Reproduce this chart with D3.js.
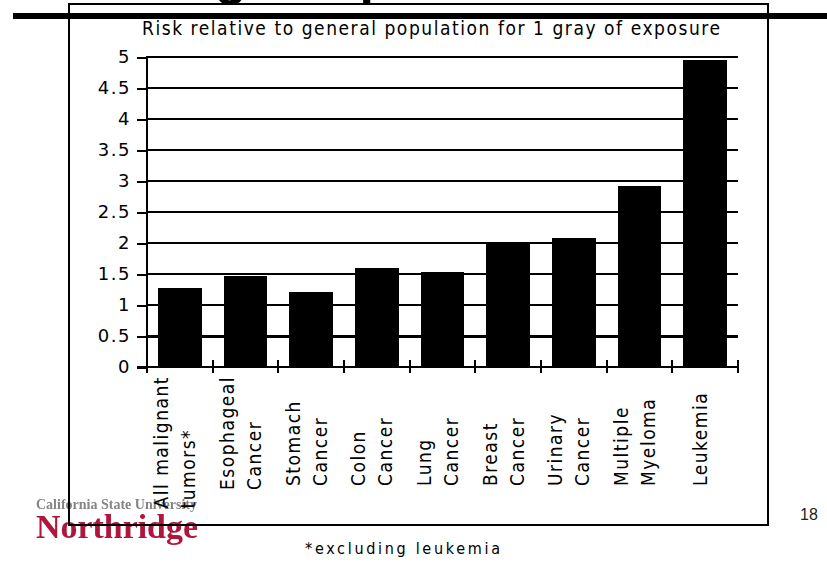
<!DOCTYPE html>
<html>
<head>
<meta charset="utf-8">
<script src="https://cdn.jsdelivr.net/npm/d3@7"></script>
<style>
  html, body { margin: 0; padding: 0; background: #fff; }
  svg { display: block; }
</style>
</head>
<body>
<svg id="chart" width="827" height="563"></svg>
<script>
// Cancer risk per gray, relative to the general population
const categories = [
  "All malignant\ntumors*",
  "Esophageal\nCancer",
  "Stomach\nCancer",
  "Colon\nCancer",
  "Lung\nCancer",
  "Breast\nCancer",
  "Urinary\nCancer",
  "Multiple\nMyeloma",
  "Leukemia"
];
const relativeRisk = [1.27, 1.47, 1.21, 1.60, 1.53, 2.02, 2.08, 2.92, 4.95];
const yTicks = [0, 0.5, 1, 1.5, 2, 2.5, 3, 3.5, 4, 4.5, 5];
const chartTitle = "Risk relative to general population for 1 gray of exposure";
const footnote = "*excluding leukemia";
const slideTitle = "Organ-Specific Risks";
const logoTop = "California State University";
const logoBottom = "Northridge";
const pageNumber = "18";

const svg = d3.select("#chart");
const W = 827, H = 563;
const plot = { left: 147, right: 738, top: 57, bottom: 367 };
const labelFont = "'DejaVu Sans', 'Noto Sans', sans-serif";
const condFont = "'DejaVu Sans Condensed', 'DejaVu Sans', sans-serif";

const x = d3.scaleBand().domain(categories).range([plot.left, plot.right]).padding(0);
const y = d3.scaleLinear().domain([0, 5]).range([plot.bottom, plot.top]);

// --- university logo (soft image-like rendering) ---
const defs = svg.append("defs");
defs.append("filter").attr("id", "soft")
  .append("feGaussianBlur").attr("stdDeviation", 0.5);
const logo = svg.append("g").attr("filter", "url(#soft)");
logo.append("text")
  .attr("x", 36).attr("y", 509)
  .attr("textLength", 161).attr("lengthAdjust", "spacingAndGlyphs")
  .style("font-family", "'Liberation Serif', serif")
  .style("font-size", "15px").style("font-weight", "bold")
  .attr("fill", "#858585")
  .text(logoTop);
logo.append("text")
  .attr("x", 36).attr("y", 538)
  .attr("textLength", 162).attr("lengthAdjust", "spacingAndGlyphs")
  .style("font-family", "'Liberation Serif', serif")
  .style("font-size", "34px").style("font-weight", "bold")
  .attr("fill", "#b0173e")
  .text(logoBottom);

// --- slide heading, mostly above the page edge ---
const heading = svg.append("text")
  .attr("y", -6)
  .style("font-family", "'Liberation Sans', Arial, sans-serif")
  .style("font-size", "52px").style("font-weight", "bold")
  .attr("fill", "#000")
  .text(slideTitle);
{
  const gi = slideTitle.indexOf("g");
  heading.attr("x", 0);
  const off = heading.node().getSubStringLength(0, gi);
  heading.attr("x", 215 - off);
}

// --- heavy rule and chart frame ---
svg.append("rect")
  .attr("x", 13).attr("y", 13).attr("width", W - 13).attr("height", 6)
  .attr("fill", "#000").attr("shape-rendering", "crispEdges");
svg.append("rect")
  .attr("x", 69).attr("y", 3.5).attr("width", 699).attr("height", 521.5)
  .attr("fill", "none").attr("stroke", "#000").attr("stroke-width", 2)
  .attr("shape-rendering", "crispEdges");

// --- chart title ---
svg.append("text")
  .attr("x", 142).attr("y", 35)
  .attr("textLength", 578).attr("lengthAdjust", "spacing")
  .style("font-family", condFont).style("font-size", "19px")
  .attr("fill", "#000")
  .text(chartTitle);

// --- gridlines ---
svg.append("g").selectAll("line")
  .data(yTicks)
  .join("line")
  .attr("x1", plot.left).attr("x2", plot.right)
  .attr("y1", d => y(d)).attr("y2", d => y(d))
  .attr("stroke", "#000")
  .attr("stroke-width", d => d === 0.5 ? 3 : 2)
  .attr("shape-rendering", "crispEdges");

// --- bars ---
const barFrac = 0.66;
svg.append("g").selectAll("rect")
  .data(categories.map((c, i) => ({ c, v: relativeRisk[i] })))
  .join("rect")
  .attr("x", d => x(d.c) + x.bandwidth() * (1 - barFrac) / 2)
  .attr("width", x.bandwidth() * barFrac)
  .attr("y", d => y(d.v))
  .attr("height", d => y(0) - y(d.v))
  .attr("fill", "#000")
  .attr("shape-rendering", "crispEdges");

// --- y axis ---
const yAxis = svg.append("g")
  .attr("transform", `translate(${plot.left},0)`)
  .call(d3.axisLeft(y).tickValues(yTicks).tickFormat(d => String(d))
    .tickSizeInner(10).tickSizeOuter(0).tickPadding(6));
yAxis.select(".domain").remove();
yAxis.selectAll(".tick line").attr("stroke", "#000").attr("stroke-width", 2)
  .attr("shape-rendering", "crispEdges");
yAxis.selectAll(".tick text")
  .style("font-family", labelFont).style("font-size", "18px")
  .style("letter-spacing", "1.5px")
  .attr("fill", "#000");
svg.append("line")
  .attr("x1", plot.left).attr("x2", plot.left)
  .attr("y1", y(5) - 1).attr("y2", plot.bottom + 6)
  .attr("stroke", "#000").attr("stroke-width", 2)
  .attr("shape-rendering", "crispEdges");

// --- x axis: baseline and ticks on category boundaries ---
svg.append("line")
  .attr("x1", plot.left - 10).attr("x2", plot.right + 1)
  .attr("y1", y(0)).attr("y2", y(0))
  .attr("stroke", "#000").attr("stroke-width", 2)
  .attr("shape-rendering", "crispEdges");
const bounds = d3.range(categories.length + 1).map(i => plot.left + i * x.step());
svg.append("g").selectAll("line")
  .data(bounds)
  .join("line")
  .attr("x1", d => d).attr("x2", d => d)
  .attr("y1", y(0) - 7).attr("y2", y(0) + 6)
  .attr("stroke", "#000").attr("stroke-width", 2)
  .attr("shape-rendering", "crispEdges");

// --- rotated category labels ---
const lineGap = 27;
const labelBase = 486;
categories.forEach(c => {
  const lines = c.split("\n");
  const cx = x(c) + x.bandwidth() / 2;
  const g = svg.append("g");
  const texts = lines.map((t, i) => g.append("text")
    .style("font-family", condFont).style("font-size", "19px")
    .style("letter-spacing", "1.5px")
    .attr("fill", "#000")
    .attr("text-anchor", "start")
    .text(t));
  const maxLen = d3.max(texts, t => t.node().getComputedTextLength());
  const startY = Math.max(labelBase, y(0) + 9 + maxLen);
  texts.forEach((t, i) => {
    const bx = cx + 2 + (i - (lines.length - 1) / 2) * lineGap;
    t.attr("transform", `translate(${bx},${startY}) rotate(-90)`);
  });
});

// --- footnote and page number ---
svg.append("text")
  .attr("x", 305).attr("y", 554)
  .attr("textLength", 195).attr("lengthAdjust", "spacing")
  .style("font-family", condFont).style("font-size", "16px")
  .attr("fill", "#000")
  .text(footnote);
svg.append("text")
  .attr("x", 800).attr("y", 520)
  .style("font-family", "'Liberation Sans', Arial, sans-serif")
  .style("font-size", "16px")
  .attr("fill", "#222")
  .text(pageNumber);
</script>
</body>
</html>
